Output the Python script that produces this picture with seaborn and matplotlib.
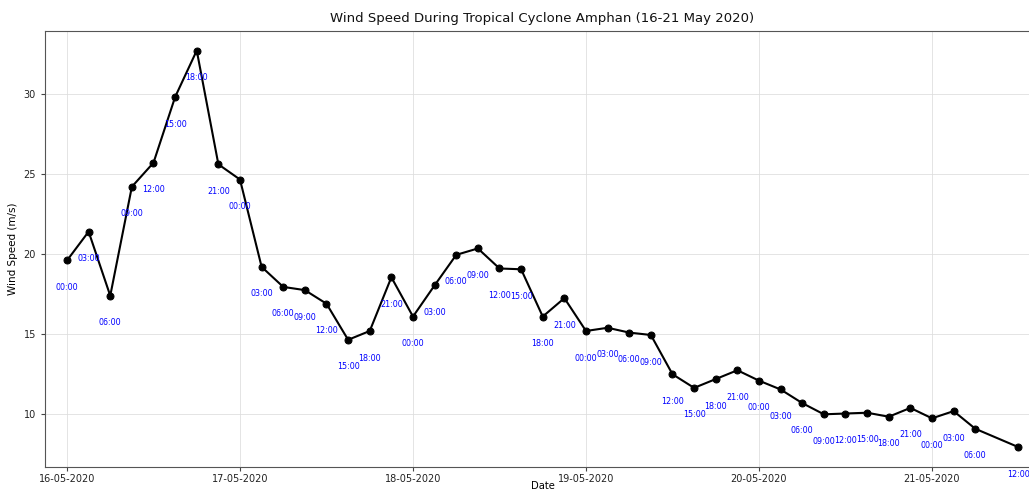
import matplotlib
matplotlib.use("Agg")
import matplotlib.pyplot as plt
import matplotlib.dates as mdates
import seaborn as sns
import pandas as pd
import numpy as np

# ---- data ----
timestamps = [
    "2020-05-16 00:00", "2020-05-16 03:00", "2020-05-16 06:00", "2020-05-16 09:00",
    "2020-05-16 12:00", "2020-05-16 15:00", "2020-05-16 18:00", "2020-05-16 21:00",
    "2020-05-17 00:00", "2020-05-17 03:00", "2020-05-17 06:00", "2020-05-17 09:00",
    "2020-05-17 12:00", "2020-05-17 15:00", "2020-05-17 18:00", "2020-05-17 21:00",
    "2020-05-18 00:00", "2020-05-18 03:00", "2020-05-18 06:00", "2020-05-18 09:00",
    "2020-05-18 12:00", "2020-05-18 15:00", "2020-05-18 18:00", "2020-05-18 21:00",
    "2020-05-19 00:00", "2020-05-19 03:00", "2020-05-19 06:00", "2020-05-19 09:00",
    "2020-05-19 12:00", "2020-05-19 15:00", "2020-05-19 18:00", "2020-05-19 21:00",
    "2020-05-20 00:00", "2020-05-20 03:00", "2020-05-20 06:00", "2020-05-20 09:00",
    "2020-05-20 12:00", "2020-05-20 15:00", "2020-05-20 18:00", "2020-05-20 21:00",
    "2020-05-21 00:00", "2020-05-21 03:00", "2020-05-21 06:00", "2020-05-21 12:00",
]
wind_speed = [
    19.6, 21.4, 17.4, 24.2, 25.7, 29.8, 32.7, 25.6,
    24.65, 19.2, 17.95, 17.75, 16.9, 14.65, 15.2, 18.55,
    16.1, 18.05, 19.95, 20.35, 19.1, 19.05, 16.1, 17.25,
    15.2, 15.4, 15.1, 14.95, 12.5, 11.65, 12.2, 12.75,
    12.1, 11.55, 10.7, 10.0, 10.05, 10.1, 9.85, 10.4,
    9.75, 10.2, 9.1, 7.95,
]
title = "Wind Speed During Tropical Cyclone Amphan (16-21 May 2020)"
x_label = "Date"
y_label = "Wind Speed (m/s)"

df = pd.DataFrame({"time": pd.to_datetime(timestamps), "speed": wind_speed})

# ---- figure ----
fig = plt.figure(figsize=(10.29, 4.91), dpi=100)
W, H = 1029, 491
ax = fig.add_axes([45 / W, (H - 467) / H, (1040 - 45) / W, (467 - 30.7) / H])

sns.lineplot(data=df, x="time", y="speed", ax=ax, color="black", marker="o",
             markersize=5, linewidth=1.5, markeredgecolor="black")

for t, v in zip(df["time"], df["speed"]):
    ax.annotate(t.strftime("%H:%M"), (mdates.date2num(t), v), textcoords="offset points",
                xytext=(0, -19.5), ha="center", va="center", fontsize=5.8, color="blue")

t0 = mdates.date2num(pd.Timestamp("2020-05-16"))
ax.set_xlim(t0 - 22 / 173, t0 + (1040 - 67) / 173)

ax.xaxis.set_major_locator(mdates.DayLocator())
ax.xaxis.set_major_formatter(mdates.DateFormatter("%d-%m-%Y"))
ax.set_yticks([10, 15, 20, 25, 30])

ax.grid(True, color="#dddddd", linewidth=0.7, alpha=0.8)
ax.tick_params(labelsize=7, length=3, color="#444444", labelcolor="#222222")
ax.tick_params(axis="x", pad=2)
for s in ax.spines.values():
    s.set_color("#555555")

ax.set_title(title, fontsize=9.5, color="#111111")
ax.set_xlabel(x_label, fontsize=7.2, labelpad=-2)
ax.set_ylabel(y_label, fontsize=7.5)

fig.savefig("out.png", dpi=100)
